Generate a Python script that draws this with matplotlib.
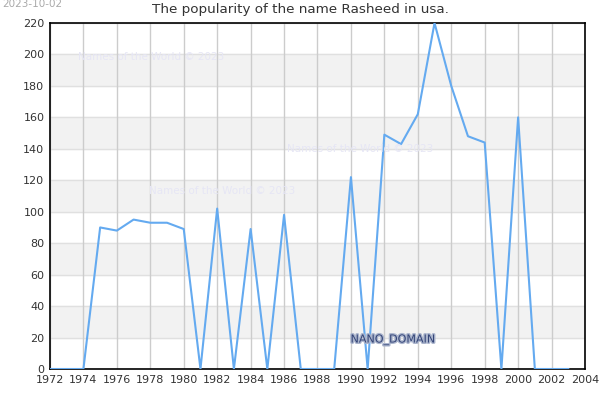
import matplotlib
matplotlib.use("Agg")
import matplotlib.pyplot as plt
import matplotlib.patheffects as pe

years = list(range(1972, 2004))
counts = [0, 0, 0, 90, 88, 95, 93, 93, 89, 0, 102, 0, 89, 0, 98, 0,
          0, 0, 122, 0, 149, 143, 162, 220, 180, 148, 144, 0, 160, 0, 0, 0]
xticks = list(range(1972, 2005, 2))
yticks = list(range(0, 221, 20))

fig = plt.figure(figsize=(6, 4), dpi=100)
ax = fig.add_axes([0.0833, 0.0775, 0.8917, 0.865])

# alternating grey bands
for lo in range(20, 220, 40):
    ax.axhspan(lo, lo + 20, color="#f2f2f2", zorder=0)
for y in yticks:
    ax.axhline(y, color="#e0e0e0", lw=1, zorder=1)
for x in xticks:
    ax.axvline(x, color="#cccccc", lw=1, zorder=1)

ax.plot(years, counts, color="#64aaf0", lw=1.5, zorder=3)

ax.set_xlim(1972, 2004)
ax.set_ylim(0, 220)
ax.set_xticks(xticks)
ax.set_yticks(yticks)
ax.tick_params(length=0, labelsize=8, colors="#333333", pad=4)
for s in ax.spines.values():
    s.set_color("black")
    s.set_linewidth(1.2)

fig.text(0.5, 1 - 10 / 400, "The popularity of the name Rasheed in usa.",
         fontsize=9.7, color="#333333", ha="center", va="center")

wm = dict(fontsize=7.5, color="#e6e6f5", ha="center", va="center", zorder=2)
fig.text(151 / 600, 1 - 57 / 400, "Names of the World © 2023", **wm)
fig.text(360 / 600, 1 - 149 / 400, "Names of the World © 2023", **wm)
fig.text(222 / 600, 1 - 191 / 400, "Names of the World © 2023", **wm)

fig.text(393 / 600, 1 - 340 / 400, "NANO_DOMAIN", fontsize=8, color="#334477",
         ha="center", va="center",
         path_effects=[pe.withStroke(linewidth=2, foreground="#aab4cc")])
fig.text(2 / 600, 1 - 4 / 400, "2023-10-02", fontsize=7.5, color="#aaaaaa",
         ha="left", va="center")

fig.savefig("out.png", dpi=100)
